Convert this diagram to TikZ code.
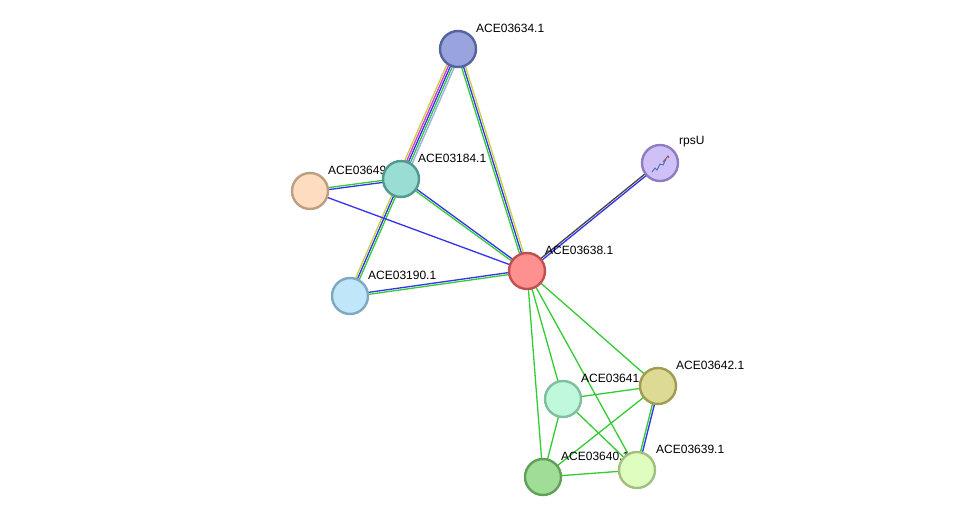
\documentclass[tikz,border=0pt]{standalone}
\usepackage{fontspec}
\setmainfont{Liberation Sans}
\usetikzlibrary{calc}
\definecolor{eg}{HTML}{33CC33}
\definecolor{eb}{HTML}{3333EE}
\definecolor{ey}{HTML}{C8D040}
\definecolor{em}{HTML}{DD33DD}
\definecolor{el}{HTML}{A0A8F0}
\definecolor{ek}{HTML}{444444}
\definecolor{gla}{HTML}{466EAA}
\definecolor{glb}{HTML}{96505A}
\tikzset{
  prot/.style={circle,minimum size=36pt,inner sep=0pt,line width=2.4pt},
  lab/.style={anchor=west,font=\fontsize{12}{12}\selectfont,inner sep=0pt},
  e/.style={line width=1.3pt}
}
\newcommand{\edge}[4]{\draw[e,#4] ($(#1)!#3!90:(#2)$) -- ($(#2)!#3!-90:(#1)$);}
\begin{document}
\begin{tikzpicture}[x=1pt,y=-1pt]
\useasboundingbox[fill=white] (0,0) rectangle (975,523);
\coordinate (p34) at (458,49);
\coordinate (pu) at (660,163);
\coordinate (p49) at (310,191);
\coordinate (p84) at (401,179);
\coordinate (p38) at (527,271);
\coordinate (p90) at (350,296);
\coordinate (p42) at (658,386);
\coordinate (p41) at (563,399);
\coordinate (p39) at (637,470);
\coordinate (p40) at (543,477);
% edges
\edge{p34}{p84}{4pt}{el}
\edge{p34}{p84}{2pt}{eg}
\edge{p34}{p84}{0pt}{eb}
\edge{p34}{p84}{-2pt}{em}
\edge{p34}{p84}{-4pt}{ey}
\edge{p84}{p90}{-2pt}{ey}
\edge{p84}{p90}{0pt}{eb}
\edge{p84}{p90}{2pt}{eg}
\edge{p34}{p38}{2pt}{ey}
\edge{p34}{p38}{0pt}{eb}
\edge{p34}{p38}{-2pt}{eg}
\edge{p49}{p84}{-1pt}{eb}
\edge{p49}{p84}{1pt}{eg}
\edge{p49}{p38}{0pt}{eb}
\edge{p84}{p38}{1pt}{eb}
\edge{p84}{p38}{-1pt}{eg}
\edge{p90}{p38}{1pt}{eb}
\edge{p90}{p38}{-1pt}{eg}
\edge{pu}{p38}{1pt}{eb}
\edge{pu}{p38}{-1pt}{ek}
\edge{p38}{p42}{0pt}{eg}
\edge{p38}{p41}{0pt}{eg}
\edge{p38}{p39}{0pt}{eg}
\edge{p38}{p40}{0pt}{eg}
\edge{p41}{p42}{0pt}{eg}
\edge{p41}{p39}{0pt}{eg}
\edge{p41}{p40}{0pt}{eg}
\edge{p42}{p40}{0pt}{eg}
\edge{p42}{p39}{1pt}{eb}
\edge{p42}{p39}{-1pt}{eg}
\edge{p40}{p39}{0pt}{eg}
% labels
\node[lab] (l34) at (476,28) {ACE03634.1};
\node[lab] (lu) at (679,142) {rpsU};
\node[lab] (l49) at (328,170) {ACE03649.1};
\node[lab] (l84) at (418,158) {ACE03184.1};
\node[lab] (l38) at (545,250) {ACE03638.1};
\node[lab] (l90) at (368,275) {ACE03190.1};
\node[lab] (l42) at (676,365) {ACE03642.1};
\node[lab] (l41) at (581,378) {ACE03641.1};
\node[lab] (l39) at (656,449) {ACE03639.1};
\node[lab] (l40) at (561,456) {ACE03640.1};
% nodes
\node[prot,fill={rgb,255:red,153;green,163;blue,221},draw={rgb,255:red,85;green,100;blue,160}] (n34) at (p34) {};
\node[prot,fill={rgb,255:red,208;green,192;blue,248},draw={rgb,255:red,144;green,124;blue,192}] (nu) at (pu) {};
\node[prot,fill={rgb,255:red,253;green,220;blue,192},draw={rgb,255:red,190;green,158;blue,128}] (n49) at (p49) {};
\node[prot,fill={rgb,255:red,153;green,221;blue,212},draw={rgb,255:red,80;green,155;blue,140}] (n84) at (p84) {};
\node[prot,fill={rgb,255:red,255;green,144;blue,144},draw={rgb,255:red,192;green,80;blue,80}] (n38) at (p38) {};
\node[prot,fill={rgb,255:red,192;green,230;blue,250},draw={rgb,255:red,128;green,168;blue,192}] (n90) at (p90) {};
\node[prot,fill={rgb,255:red,221;green,218;blue,149},draw={rgb,255:red,160;green,156;blue,80}] (n42) at (p42) {};
\node[prot,fill={rgb,255:red,192;green,248;blue,220},draw={rgb,255:red,128;green,190;blue,160}] (n41) at (p41) {};
\node[prot,fill={rgb,255:red,224;green,253;blue,192},draw={rgb,255:red,160;green,192;blue,128}] (n39) at (p39) {};
\node[prot,fill={rgb,255:red,160;green,222;blue,152},draw={rgb,255:red,96;green,160;blue,88}] (n40) at (p40) {};
% rpsU structure glyph
\draw[line width=0.9pt,gla] (652,172) -- (655,168) -- (657,170) -- (660,164) -- (663,165) -- (666,159);
\draw[line width=0.9pt,glb] (663,162) -- (668,156) -- (669,158);
\end{tikzpicture}
\end{document}
